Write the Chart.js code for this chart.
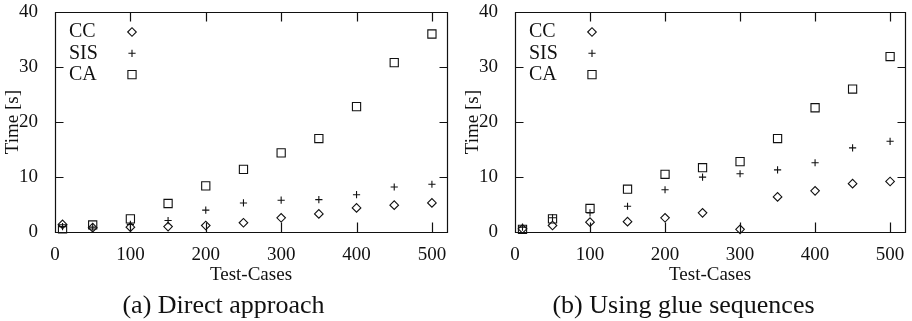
<!DOCTYPE html>
<html>
<head>
<meta charset="utf-8">
<script src="https://cdn.jsdelivr.net/npm/chart.js@4.4.0/dist/chart.umd.min.js"></script>
<style>
  html, body { margin: 0; padding: 0; background: #fff; }
  .wrap { position: absolute; top: 0; width: 456px; height: 321px; }
</style>
</head>
<body>
<div class="wrap" style="left:0"><canvas id="chartA" width="456" height="321"></canvas></div>
<div class="wrap" style="left:456px"><canvas id="chartB" width="456" height="321"></canvas></div>
<script>
// number of test cases (x axis)
const testCases = [10, 50, 100, 150, 200, 250, 300, 350, 400, 450, 500];

// (a) direct approach, seconds
const ccDirect  = [1.4, 0.8, 0.9, 1.0, 1.2, 1.7, 2.6, 3.3, 4.4, 4.9, 5.3];
const sisDirect = [1.0, 0.9, 1.4, 2.1, 4.0, 5.3, 5.8, 5.9, 6.8, 8.2, 8.7];
const caDirect  = [0.6, 1.3, 2.4, 5.2, 8.4, 11.4, 14.4, 17.0, 22.8, 30.8, 36.0];

// (b) using glue sequences, seconds
const ccGlue  = [0.6, 1.2, 1.8, 1.9, 2.6, 3.5, 0.5, 6.4, 7.5, 8.8, 9.2];
const sisGlue = [0.9, 2.6, 3.5, 4.7, 7.7, 10.0, 10.6, 11.3, 12.6, 15.3, 16.5];
const caGlue  = [0.5, 2.4, 4.3, 7.8, 10.5, 11.7, 12.8, 17.0, 22.6, 26.0, 31.9];

const seriesNames = ['CC', 'SIS', 'CA'];

const ink = '#111';
const serif = 'Liberation Serif, DejaVu Serif, serif';

function toPoints(values) {
    return testCases.map((x, i) => ({ x: x, y: values[i] }));
}

// frame with inward ticks on all four sides, like gnuplot
const framePlugin = {
    id: 'frame',
    afterDatasetsDraw(chart) {
        const ctx = chart.ctx;
        const a = chart.chartArea;
        const xs = chart.scales.x;
        const ys = chart.scales.y;
        const l = Math.round(a.left) + 0.5, r = Math.round(a.right) + 0.5;
        const t = Math.round(a.top) + 0.5, b = Math.round(a.bottom) + 0.5;
        ctx.save();
        ctx.strokeStyle = ink;
        ctx.lineWidth = 1.2;
        xs.getTicks().forEach(tk => {
            const px = Math.round(xs.getPixelForValue(tk.value)) + 0.5;
            if (px - l < 2 || r - px < 2) return;
            ctx.beginPath();
            ctx.moveTo(px, b); ctx.lineTo(px, b - 10);
            ctx.moveTo(px, t); ctx.lineTo(px, t + 9);
            ctx.stroke();
        });
        ys.getTicks().forEach(tk => {
            const py = Math.round(ys.getPixelForValue(tk.value)) + 0.5;
            if (py - t < 2 || b - py < 2) return;
            ctx.beginPath();
            ctx.moveTo(l, py); ctx.lineTo(l + 8, py);
            ctx.moveTo(r, py); ctx.lineTo(r - 8, py);
            ctx.stroke();
        });
        ctx.beginPath();
        ctx.rect(l, t, r - l, b - t);
        ctx.stroke();
        ctx.restore();
    }
};

// key inside the plot: label first, symbol after it
const keyPlugin = {
    id: 'key',
    afterDraw(chart) {
        const { ctx, chartArea: a } = chart;
        ctx.save();
        ctx.font = '20px ' + serif;
        ctx.textAlign = 'left';
        ctx.textBaseline = 'middle';
        chart.data.datasets.forEach((ds, i) => {
            const y = a.top + 20 + i * 21.3;
            ctx.fillStyle = ink;
            ctx.fillText(ds.label, a.left + 14, y);
            ctx.strokeStyle = ink;
            ctx.fillStyle = 'rgba(0,0,0,0)';
            ctx.lineWidth = ds.borderWidth;
            Chart.helpers.drawPoint(ctx, {
                pointStyle: ds.pointStyle,
                radius: ds.pointRadius,
                rotation: 0,
                borderWidth: ds.borderWidth
            }, a.left + 77, y);
        });
        ctx.restore();
    }
};

function makeChart(id, caption, cc, sis, ca, padLeft, padRight) {
    const styles = [
        { pointStyle: 'rectRot', pointRadius: 4.3 },
        { pointStyle: 'cross', pointRadius: 3.6 },
        { pointStyle: 'rect', pointRadius: 5.8 }
    ];
    const values = [cc, sis, ca];
    new Chart(document.getElementById(id), {
        type: 'scatter',
        data: {
            datasets: seriesNames.map((name, i) => ({
                label: name,
                data: toPoints(values[i]),
                pointStyle: styles[i].pointStyle,
                pointRadius: styles[i].pointRadius,
                pointHoverRadius: styles[i].pointRadius,
                borderColor: ink,
                backgroundColor: 'rgba(0,0,0,0)',
                borderWidth: 1.1,
                clip: false
            }))
        },
        options: {
            responsive: false,
            animation: false,
            layout: { padding: { left: padLeft, right: padRight, top: 12, bottom: 0 } },
            plugins: {
                legend: { display: false },
                tooltip: { enabled: false },
                title: {
                    display: true,
                    position: 'bottom',
                    text: caption,
                    color: ink,
                    font: { family: serif, size: 26, weight: 'normal', lineHeight: 1.15 },
                    padding: { top: 0, bottom: 0 }
                }
            },
            scales: {
                x: {
                    type: 'linear',
                    min: 0,
                    max: 520,
                    grid: { display: false },
                    border: { display: false },
                    ticks: {
                        stepSize: 100,
                        includeBounds: false,
                        color: ink,
                        padding: 4,
                        font: { family: serif, size: 19 }
                    },
                    title: {
                        display: true,
                        text: 'Test-Cases',
                        color: ink,
                        font: { family: serif, size: 19 },
                        padding: { top: 0, bottom: 5 }
                    },
                    afterFit(scale) {
                        scale.height = 59;
                        scale.paddingLeft = 0;
                        scale.paddingRight = 0;
                    }
                },
                y: {
                    min: 0,
                    max: 40,
                    grid: { display: false },
                    border: { display: false },
                    ticks: {
                        stepSize: 10,
                        color: ink,
                        padding: 9,
                        font: { family: serif, size: 19 }
                    },
                    title: {
                        display: true,
                        text: 'Time [s]',
                        color: ink,
                        font: { family: serif, size: 19 },
                        padding: { top: 2, bottom: 0 }
                    },
                    afterFit(scale) {
                        scale.width = 55;
                        scale.paddingTop = 0;
                        scale.paddingBottom = 0;
                    }
                }
            }
        },
        plugins: [framePlugin, keyPlugin]
    });
}

makeChart('chartA', '(a) Direct approach', ccDirect, sisDirect, caDirect, 0, 9);
makeChart('chartB', '(b) Using glue sequences', ccGlue, sisGlue, caGlue, 4, 5);
</script>
</body>
</html>
